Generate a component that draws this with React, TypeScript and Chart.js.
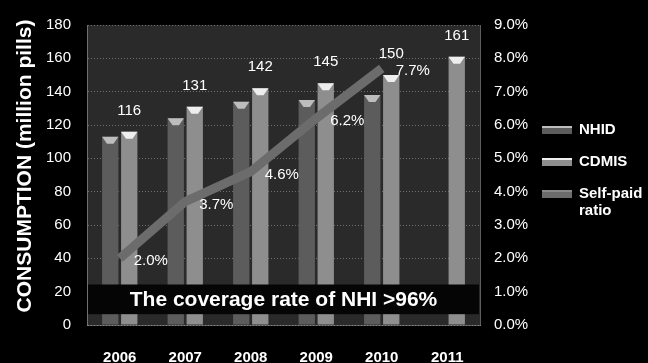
import React, { useEffect, useRef } from "react";
import { Chart, registerables } from "chart.js";

Chart.register(...registerables);

// Annual drug consumption by source (million pills) and the self-paid share (%)
const years = ["2006", "2007", "2008", "2009", "2010", "2011"];
const nhidValues = [113, 124, 134, 135, 138, null];
const cdmisValues = [116, 131, 142, 145, 150, 161];
const selfPaidRatio = [2.0, 3.7, 4.6, 6.2, 7.7, null];

const leftAxisMax = 180;
const leftAxisStep = 20;
const rightAxisMax = 9;
const rightAxisStep = 1;

const legendItems = [
  { lines: ["NHID"], color: "#5c5c5c", cap: "#bdbdbd" },
  { lines: ["CDMIS"], color: "#8e8e8e", cap: "#eeeeee" },
  { lines: ["Self-paid", "ratio"], color: "#6c6c6c", cap: "#8a8a8a" },
];

const axisTitle = "CONSUMPTION (million pills)";
const coverageNote = "The coverage rate of NHI >96%";
// band behind the note, in left-axis units
const noteBand = [6.5, 24.3];

const FONT = "'Liberation Sans', Arial, sans-serif";

const backdropPlugin = {
  id: "backdrop",
  beforeDraw(chart: any) {
    const { ctx, chartArea, width, height } = chart;
    ctx.save();
    ctx.fillStyle = "#000000";
    ctx.fillRect(0, 0, width, height);
    ctx.fillStyle = "#2a2a2a";
    ctx.fillRect(chartArea.left, chartArea.top, chartArea.right - chartArea.left, chartArea.bottom - chartArea.top);
    ctx.restore();
  },
};

const decorPlugin = {
  id: "decor",
  afterDatasetsDraw(chart: any) {
    const { ctx, chartArea, scales } = chart;
    ctx.save();

    // conical caps on the bars
    [0, 1].forEach((di) => {
      const meta = chart.getDatasetMeta(di);
      const capColor = legendItems[di].cap;
      meta.data.forEach((el: any, i: number) => {
        const v = chart.data.datasets[di].data[i];
        if (v == null) return;
        const w = el.width;
        ctx.fillStyle = capColor;
        ctx.beginPath();
        ctx.moveTo(el.x - w / 2, el.y);
        ctx.lineTo(el.x + w / 2, el.y);
        ctx.lineTo(el.x + w * 0.2, el.y + 7);
        ctx.lineTo(el.x - w * 0.2, el.y + 7);
        ctx.closePath();
        ctx.fill();
      });
    });

    // band with the coverage note
    const y = scales.y;
    const top = y.getPixelForValue(noteBand[1]);
    const bottom = y.getPixelForValue(noteBand[0]);
    ctx.fillStyle = "#050505";
    ctx.fillRect(chartArea.left + 1, top, chartArea.right - chartArea.left - 2, bottom - top);
    ctx.fillStyle = "#ffffff";
    ctx.font = `bold 21px ${FONT}`;
    ctx.textAlign = "center";
    ctx.textBaseline = "middle";
    ctx.fillText(coverageNote, (chartArea.left + chartArea.right) / 2, (top + bottom) / 2 + 1);

    // value labels above CDMIS bars
    ctx.font = `15px ${FONT}`;
    const cdMeta = chart.getDatasetMeta(1);
    cdMeta.data.forEach((el: any, i: number) => {
      const v = cdmisValues[i];
      if (v == null) return;
      ctx.fillText(String(v), el.x, el.y - 21);
    });

    // self-paid ratio labels beside the line points
    const lnMeta = chart.getDatasetMeta(2);
    lnMeta.data.forEach((el: any, i: number) => {
      const v = selfPaidRatio[i];
      if (v == null) return;
      ctx.fillText(v.toFixed(1) + "%", el.x + 31, el.y + 3);
    });

    ctx.restore();
  },
  afterDraw(chart: any) {
    const { ctx, chartArea } = chart;
    ctx.save();

    // vertical axis title
    ctx.translate(25, 166);
    ctx.rotate(-Math.PI / 2);
    ctx.fillStyle = "#ffffff";
    ctx.font = `bold 21px ${FONT}`;
    ctx.textAlign = "center";
    ctx.textBaseline = "middle";
    ctx.fillText(axisTitle, 0, 0);
    ctx.setTransform(1, 0, 0, 1, 0, 0);

    // legend
    const swX = chartArea.right + 62;
    const textX = swX + 37;
    let yPos = chartArea.top + 105;
    ctx.font = `bold 15px ${FONT}`;
    ctx.textAlign = "left";
    ctx.textBaseline = "middle";
    legendItems.forEach((item) => {
      ctx.fillStyle = item.color;
      ctx.fillRect(swX, yPos - 4, 30, 8);
      ctx.fillStyle = item.cap;
      ctx.fillRect(swX, yPos - 4, 30, 2);
      ctx.fillStyle = "#ffffff";
      item.lines.forEach((line, li) => {
        ctx.fillText(line, textX, yPos + li * 17);
      });
      yPos += 32;
    });
    ctx.restore();
  },
};

export default function App() {
  const canvasRef = useRef<HTMLCanvasElement | null>(null);

  useEffect(() => {
    const canvas = canvasRef.current;
    if (!canvas) return;
    const gridColor = "rgba(170,170,170,0.55)";
    const chart = new Chart(canvas, {
      type: "bar",
      data: {
        labels: years,
        datasets: [
          {
            label: "NHID",
            data: nhidValues as any,
            backgroundColor: legendItems[0].color,
            yAxisID: "y",
            order: 2,
            categoryPercentage: 0.58,
            barPercentage: 0.86,
          },
          {
            label: "CDMIS",
            data: cdmisValues,
            backgroundColor: legendItems[1].color,
            yAxisID: "y",
            order: 2,
            categoryPercentage: 0.58,
            barPercentage: 0.86,
          },
          {
            type: "line",
            label: "Self-paid ratio",
            data: selfPaidRatio as any,
            borderColor: legendItems[2].color,
            backgroundColor: legendItems[2].color,
            borderWidth: 9,
            pointRadius: 0,
            tension: 0,
            yAxisID: "y1",
            order: 1,
          } as any,
        ],
      },
      options: {
        animation: false,
        responsive: false,
        layout: { padding: { top: 14, left: 0, right: 0, bottom: 0 } },
        plugins: {
          legend: { display: false },
          tooltip: { enabled: false },
        },
        scales: {
          x: {
            grid: { display: false, drawTicks: false },
            border: { display: true, color: gridColor, dash: [1, 2] },
            ticks: {
              color: "#ffffff",
              font: { family: FONT, size: 15, weight: "bold" },
              padding: 24,
              maxRotation: 0,
            },
            afterFit(scale: any) {
              scale.height = 38;
            },
          },
          y: {
            position: "left",
            min: 0,
            max: leftAxisMax,
            ticks: {
              stepSize: leftAxisStep,
              color: "#ffffff",
              font: { family: FONT, size: 15 },
              padding: 16,
            },
            grid: { color: gridColor, drawTicks: false },
            border: { display: true, color: gridColor, dash: [1, 2] },
            afterFit(scale: any) {
              scale.width = 87;
            },
          },
          y1: {
            position: "right",
            min: 0,
            max: rightAxisMax,
            ticks: {
              stepSize: rightAxisStep,
              color: "#ffffff",
              font: { family: FONT, size: 15 },
              padding: 14,
              callback: (v: any) => Number(v).toFixed(1) + "%",
            },
            grid: { display: false, drawTicks: false },
            border: { display: true, color: gridColor, dash: [1, 2] },
            afterFit(scale: any) {
              scale.width = 168;
            },
          },
        },
      } as any,
      plugins: [backdropPlugin, decorPlugin],
    });
    return () => chart.destroy();
  }, []);

  return (
    <div style={{ position: "fixed", left: 0, top: 0, width: 648, height: 363, background: "#000" }}>
      <canvas ref={canvasRef} width={648} height={363} style={{ display: "block" }} />
    </div>
  );
}
